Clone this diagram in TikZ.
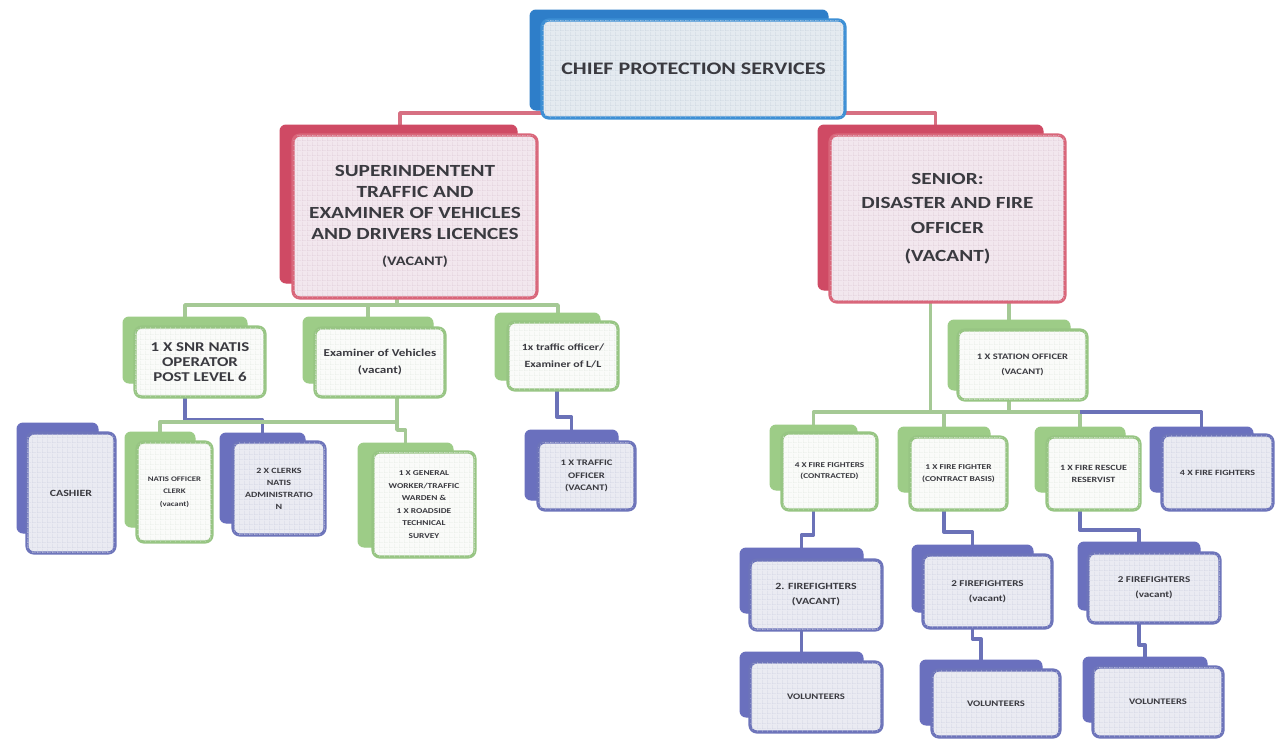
\documentclass[tikz,border=0pt]{standalone}
\usepackage{fontspec}
\setmainfont{Carlito}
\newfontfamily\wideface{Carlito}[FakeStretch=1.25]
\usetikzlibrary{calc,patterns.meta}

\definecolor{topB}{HTML}{2E7EC9}
\definecolor{topL}{HTML}{3D8FD5}
\definecolor{topF}{HTML}{E4EAF0}
\definecolor{topG}{HTML}{C8D3DE}
\definecolor{redB}{HTML}{CF4A64}
\definecolor{redL}{HTML}{D9667A}
\definecolor{redF}{HTML}{F2E7EE}
\definecolor{redG}{HTML}{DFCBD7}
\definecolor{grnB}{HTML}{9DCC87}
\definecolor{grnL}{HTML}{97C583}
\definecolor{grnF}{HTML}{FAFBF9}
\definecolor{grnG}{HTML}{E6EBE4}
\definecolor{bluB}{HTML}{6A70BE}
\definecolor{bluL}{HTML}{6D74BA}
\definecolor{bluF}{HTML}{EAEBF2}
\definecolor{bluG}{HTML}{D0D3E3}
\definecolor{redC}{HTML}{D77082}
\definecolor{grnC}{HTML}{A5C995}
\definecolor{bluC}{HTML}{6B72B8}
\definecolor{txt}{HTML}{3A3A40}

\pgfdeclarelayer{bg}
\pgfsetlayers{bg,main}

% fine mesh printed on the face of every card
\tikzdeclarepattern{
  name=cardmesh, type=uncolored,
  bounding box={(0pt,0pt) and (4.5pt,4.5pt)},
  tile size={(4.5pt,4.5pt)},
  code={\draw[line width=0.7pt] (0pt,0pt) -- (4.5pt,0pt) (0pt,0pt) -- (0pt,4.5pt);}
}

\newcommand{\cardfont}[2]{\wideface\bfseries\fontsize{#1}{#2}\selectfont}

\tikzset{
  unitfront/.style={draw, line width=3.2pt, rounded corners=7pt, align=center,
    inner sep=1pt, outer sep=0pt, text=txt, font=\cardfont{8}{12}},
  unitback/.style={draw, line width=1pt, rounded corners=6pt, inner sep=0pt, outer sep=0pt},
  top back/.style={unitback, fill=topB, draw=topB},
  top front/.style={unitfront, fill=topF, draw=topL, postaction={pattern=cardmesh, pattern color=topG}},
  red back/.style={unitback, fill=redB, draw=redB},
  red front/.style={unitfront, fill=redF, draw=redL, postaction={pattern=cardmesh, pattern color=redG}},
  grn back/.style={unitback, fill=grnB, draw=grnB},
  grn front/.style={unitfront, fill=grnF, draw=grnL, postaction={pattern=cardmesh, pattern color=grnG}},
  blu back/.style={unitback, fill=bluB, draw=bluB},
  blu front/.style={unitfront, fill=bluF, draw=bluL, postaction={pattern=cardmesh, pattern color=bluG}},
  link/.style={line width=3.4pt, line join=round},
  redlink/.style={link, draw=redC},
  grnlink/.style={link, draw=grnC},
  blulink/.style={link, draw=bluC},
}

% back plate of a unit: name, kind, x1, y1, x2, y2
\newcommand{\backbox}[6]{%
  \node[#2 back, minimum width={(#5-#3)*1pt}, minimum height={(#6-#4)*1pt}]
    (#1b) at ({(#3+#5)/2},{(#4+#6)/2}) {};}
% front card of a unit: [extra options], name, kind, x1, y1, x2, y2, text
\newcommand{\frontbox}[8][]{%
  \node[#3 front, minimum width={(#6-#4)*1pt}, minimum height={(#7-#5)*1pt}, #1]
    (#2) at ({(#4+#6)/2},{(#5+#7)/2}) {#8};}

\begin{document}
\begin{tikzpicture}[x=1pt,y=-1pt]
\useasboundingbox (0,0) rectangle (1279,742);
\begin{pgfonlayer}{bg}
  \fill[white] (0,0) rectangle (1279,742);
\end{pgfonlayer}

% ---- top level
\backbox{chief}{top}{530}{10}{828}{110}
\frontbox[font=\cardfont{17.6}{22}]{chief}{top}{542}{20}{845}{118}{CHIEF PROTECTION SERVICES}

% ---- heads of the two branches
\backbox{sup}{red}{280}{125}{517}{283}
\frontbox[font=\cardfont{17}{21}]{sup}{red}{293}{135}{537}{298}%
  {SUPERINDENTENT\\TRAFFIC AND\\EXAMINER OF VEHICLES\\AND DRIVERS LICENCES\\[5pt]{\fontsize{13}{15}\selectfont(VACANT)}}
\backbox{sen}{red}{818}{125}{1043}{290}
\frontbox[font=\cardfont{17}{24.5}]{sen}{red}{830}{135}{1065}{302}%
  {SENIOR:\\DISASTER AND FIRE\\OFFICER\\[4pt](VACANT)}

% ---- traffic branch
\backbox{op}{grn}{123}{317}{247}{383}
\frontbox[font=\cardfont{13.5}{15}]{op}{grn}{135}{327}{265}{397}%
  {1 X SNR NATIS\\OPERATOR\\POST LEVEL 6}
\backbox{exam}{grn}{303}{317}{433}{383}
\frontbox[font=\cardfont{10.5}{17}]{exam}{grn}{315}{328}{445}{397}%
  {Examiner of Vehicles\\(vacant)}
\backbox{tre}{grn}{495}{313}{600}{380}
\frontbox[font=\cardfont{9.5}{17}]{tre}{grn}{508}{322}{618}{390}%
  {1x traffic officer/\\Examiner of L/L}

\backbox{cash}{blu}{17}{423}{98}{533}
\frontbox[font=\cardfont{9.5}{12}]{cash}{blu}{27}{433}{115}{553}{CASHIER}
\backbox{natis}{grn}{125}{432}{195}{527}
\frontbox[font=\cardfont{7}{12.5}]{natis}{grn}{137}{442}{212}{542}%
  {NATIS OFFICER\\CLERK\\(vacant)}
\backbox{clerk}{blu}{220}{433}{305}{523}
\frontbox[font=\cardfont{8}{12}]{clerk}{blu}{233}{442}{325}{535}%
  {2 X CLERKS\\NATIS\\ADMINISTRATIO\\N}
\backbox{gw}{grn}{358}{443}{453}{547}
\frontbox[font=\cardfont{7.5}{12.5}]{gw}{grn}{373}{452}{475}{557}%
  {1 X GENERAL\\WORKER/TRAFFIC\\WARDEN \&\\1 X ROADSIDE\\TECHNICAL\\SURVEY}
\backbox{tro}{blu}{525}{430}{618}{500}
\frontbox[font=\cardfont{8.5}{12.5}]{tro}{blu}{538}{442}{635}{510}%
  {1 X TRAFFIC\\OFFICER\\(VACANT)}

% ---- disaster and fire branch
\backbox{stn}{grn}{948}{320}{1070}{390}
\frontbox[font=\cardfont{8.4}{15}]{stn}{grn}{958}{330}{1087}{400}%
  {1 X STATION OFFICER\\(VACANT)}

\backbox{fa}{grn}{770}{425}{857}{490}
\frontbox[font=\cardfont{7.4}{11}]{fa}{grn}{782}{433}{877}{510}%
  {4 X FIRE FIGHTERS\\(CONTRACTED)}
\backbox{fb}{grn}{898}{427}{990}{492}
\frontbox[font=\cardfont{7.5}{12}]{fb}{grn}{910}{437}{1007}{510}%
  {1 X FIRE FIGHTER\\(CONTRACT BASIS)}
\backbox{fc}{grn}{1035}{427}{1125}{492}
\frontbox[font=\cardfont{8}{12}]{fc}{grn}{1047}{437}{1140}{510}%
  {1 X FIRE RESCUE\\RESERVIST}
\backbox{fd}{blu}{1150}{427}{1253}{492}
\frontbox[font=\cardfont{8}{12}]{fd}{blu}{1162}{435}{1273}{510}%
  {4 X FIRE FIGHTERS}

\backbox{fe}{blu}{740}{548}{863}{613}
\frontbox[font=\cardfont{9.5}{15}]{fe}{blu}{750}{560}{882}{630}%
  {2. FIREFIGHTERS\\(VACANT)}
\backbox{ff}{blu}{912}{545}{1033}{612}
\frontbox[font=\cardfont{8.9}{15}]{ff}{blu}{923}{555}{1052}{628}%
  {2 FIREFIGHTERS\\(vacant)}
\backbox{fg}{blu}{1078}{542}{1200}{610}
\frontbox[font=\cardfont{8.9}{15}]{fg}{blu}{1088}{553}{1220}{623}%
  {2 FIREFIGHTERS\\(vacant)}

\backbox{fh}{blu}{740}{652}{863}{717}
\frontbox[font=\cardfont{8.5}{12}]{fh}{blu}{750}{662}{882}{732}{VOLUNTEERS}
\backbox{fi}{blu}{920}{660}{1042}{725}
\frontbox[font=\cardfont{8.5}{12}]{fi}{blu}{932}{670}{1060}{737}{VOLUNTEERS}
\backbox{fj}{blu}{1083}{657}{1207}{722}
\frontbox[font=\cardfont{8.5}{12}]{fj}{blu}{1093}{667}{1223}{737}{VOLUNTEERS}

% ---- reporting lines, kept behind the cards
\begin{pgfonlayer}{bg}
  \draw[redlink] ([yshift=5pt]chief.south) -| ([xshift=-15pt]sup.north);
  \draw[redlink] ([yshift=5pt]chief.south) -| ([xshift=-12pt]sen.north);

  \draw[grnlink] ([xshift=-18pt]sup.south) -- ++(0,7) coordinate (lbus);
  \draw[grnlink] (opb.north) |- (lbus) -| ([xshift=-5pt]tre.north);
  \draw[grnlink] (examb.north) -- (examb.north |- lbus);

  \draw[blulink] (opb.south) -- ++(0,37) -| (clerkb.north);
  \draw[grnlink] ([xshift=17pt]exam.south) -- ++(0,25) -| (natisb.north);
  \draw[grnlink] ([xshift=17pt]exam.south) -- ++(0,33) -| (gwb.north);
  \draw[blulink] ([xshift=-6pt]tre.south) -- ++(0,27) -| (trob.north);

  \draw[grnlink] (stnb.north |- sen.south) -- (stnb.north);
  \draw[grnlink] ([xshift=-17pt]sen.south) -- ++(0,110) coordinate (rbus);
  \draw[grnlink] (stnb.south) -- (stnb.south |- rbus);
  \draw[grnlink] (fab.north) |- (rbus) -| (fcb.north);
  \draw[grnlink] (fbb.north) -- (fbb.north |- rbus);
  \draw[blulink] (fcb.north |- rbus) -| (fdb.north);

  \draw[blulink] (fab.south) -- ++(0,45) -| (feb.north);
  \draw[blulink] (fbb.south) -- ++(0,40) -| (ffb.north);
  \draw[blulink] (fcb.south) -- ++(0,38) -| (fgb.north);
  \draw[blulink] (feb.south) -- (fhb.north);
  \draw[blulink] (ffb.south) -- ++(0,27) -| (fib.north);
  \draw[blulink] (fgb.south) -- ++(0,35) -| (fjb.north);
\end{pgfonlayer}
\end{tikzpicture}
\end{document}
